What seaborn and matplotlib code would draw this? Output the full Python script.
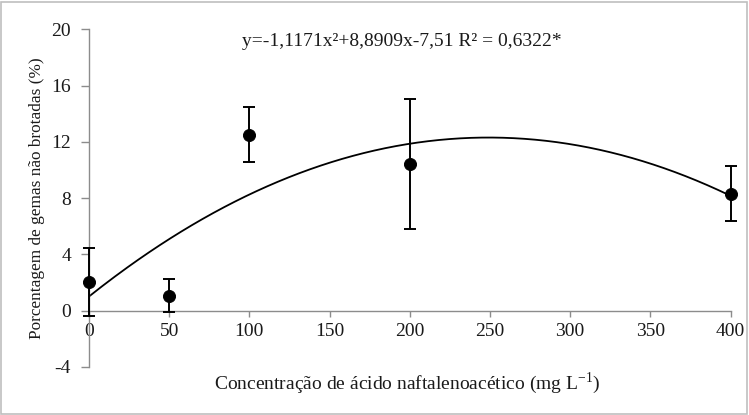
import numpy as np
import pandas as pd
import matplotlib
matplotlib.use("Agg")
import matplotlib.pyplot as plt
import seaborn as sns
from matplotlib.patches import Rectangle

# Concentration of NAA (mg/L), mean % of non-sprouted buds, and error bar half-widths
concentracao = [0, 50, 100, 200, 400]
porcentagem = [2.05, 1.08, 12.5, 10.44, 8.32]
erro = [2.4, 1.2, 1.95, 4.6, 1.95]

x_ticks = [0, 50, 100, 150, 200, 250, 300, 350, 400]
y_ticks = [-4, 0, 4, 8, 12, 16, 20]
equacao = "y=-1,1171x²+8,8909x-7,51 R² = 0,6322*"

sns.set_theme(style="white")
plt.rcParams["font.family"] = ["Liberation Serif", "DejaVu Serif"]
plt.rcParams["mathtext.fontset"] = "custom"
plt.rcParams["mathtext.rm"] = "Liberation Serif"

df = pd.DataFrame({"conc": concentracao, "pct": porcentagem, "err": erro})

# quadratic trend line fitted to the means
coef = np.polyfit(df["conc"], df["pct"], 2)
xs = np.linspace(0, 400, 300)
trend = pd.DataFrame({"conc": xs, "pct": np.polyval(coef, xs)})

fig = plt.figure(figsize=(7.49, 4.15), dpi=100)
ax = fig.add_axes([0.1188, 0.1157, 0.9754 - 0.1188, 0.9294 - 0.1157])

axis_gray = "#8c8c8c"
text_col = "#1a1a1a"
fs = 14

sns.lineplot(data=trend, x="conc", y="pct", color="black", lw=1.3, ax=ax, zorder=2)
ax.errorbar(df["conc"], df["pct"], yerr=df["err"], fmt="none", ecolor="black",
            elinewidth=1.4, capsize=4, capthick=1.4, zorder=3, clip_on=False)
sns.scatterplot(data=df, x="conc", y="pct", color="black", s=75, edgecolor="black",
                ax=ax, zorder=4, clip_on=False)

ax.set_xlim(0, 400)
ax.set_ylim(-4, 20)
ax.set_xticks(x_ticks)
ax.set_yticks(y_ticks)
ax.set_xticklabels([str(v) for v in x_ticks])
ax.set_yticklabels([str(v) for v in y_ticks])

for s in ["top", "right"]:
    ax.spines[s].set_visible(False)
ax.spines["bottom"].set_position(("data", 0))
for s in ["bottom", "left"]:
    ax.spines[s].set_color(axis_gray)
    ax.spines[s].set_linewidth(1.0)

ax.tick_params(axis="both", which="major", direction="out", width=1.0,
               color=axis_gray, labelsize=fs, labelcolor=text_col,
               bottom=True, left=True)
ax.tick_params(axis="x", length=4, pad=5)
ax.tick_params(axis="y", length=6, pad=7)

ax.set_xlabel("")
ax.set_ylabel("")
fig.text(0.543, 0.077, "Concentração de ácido naftalenoacético (mg L$^{\\mathregular{-1}}$)",
         ha="center", va="center", fontsize=fs, color=text_col)
fig.text(0.049, 0.523, "Porcentagem de gemas não brotadas (%)", rotation=90,
         ha="center", va="center", fontsize=12.4, color=text_col)

ax.text(195, 19.1, equacao, ha="center", va="center", fontsize=fs, color=text_col)

fig.patches.append(Rectangle((0.002, 0.003), 0.995, 0.993, transform=fig.transFigure,
                             fill=False, edgecolor="#bfbfbf", lw=1.2))

fig.savefig("out.png", dpi=100)
